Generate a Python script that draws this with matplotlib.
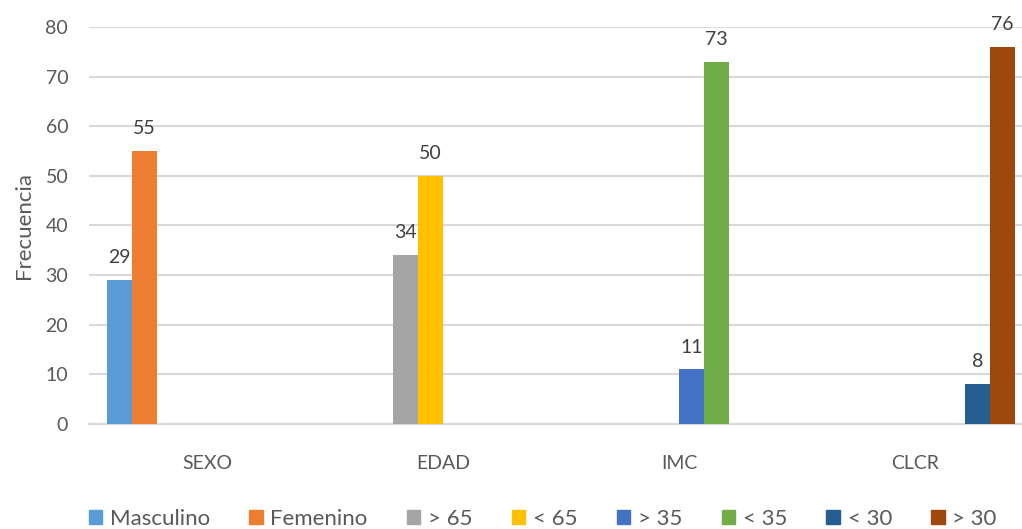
import matplotlib
matplotlib.use('Agg')
import matplotlib.pyplot as plt
from matplotlib.patches import Patch

# data
categories = ['SEXO', 'EDAD', 'IMC', 'CLCR']
series_names = ['Masculino', 'Femenino', '> 65', '< 65', '> 35', '< 35', '< 30', '> 30']
series_values = [29, 55, 34, 50, 11, 73, 8, 76]
series_category = [0, 0, 1, 1, 2, 2, 3, 3]
colors = ['#5B9BD5', '#ED7D31', '#A5A5A5', '#FFC000',
          '#4472C4', '#70AD47', '#255E91', '#9E480E']

plt.rcParams['font.family'] = ['Lato', 'DejaVu Sans']
txt = '#595959'

fig = plt.figure(figsize=(10.22, 5.29), dpi=100)
ax = fig.add_axes([0.0871, 0.1985, 0.9237, 0.7505])

w = 0.106
n = len(series_names)
for k in range(n):
    x = series_category[k] + (k - (n - 1) / 2) * w
    ax.bar(x, series_values[k], width=w, color=colors[k], zorder=3)
    ax.annotate(str(series_values[k]), (x, series_values[k]), xytext=(0, 10),
                textcoords='offset points', ha='center', va='bottom',
                fontsize=14, color='#404040', annotation_clip=False)

ax.set_xlim(-0.5, len(categories) - 0.5)
ax.set_ylim(0, 80)
ax.set_yticks(range(0, 81, 10))
ax.set_xticks(range(len(categories)))
ax.set_xticklabels(categories)
ax.tick_params(axis='both', length=0, labelsize=14, labelcolor=txt)
ax.tick_params(axis='x', pad=22)
ax.tick_params(axis='y', pad=15)
ax.grid(axis='y', color='#D9D9D9', linewidth=1.5, zorder=0)
for s in ['top', 'right', 'left']:
    ax.spines[s].set_visible(False)
ax.spines['bottom'].set_color('#D9D9D9')
ax.spines['bottom'].set_linewidth(1.5)
ax.set_ylabel('Frecuencia', fontsize=16, color=txt, labelpad=8)

handles = [Patch(color=c) for c in colors]
fig.legend(handles, series_names, loc='center', bbox_to_anchor=(0.531, 0.019),
           ncol=n, frameon=False, fontsize=16, labelcolor=txt,
           handlelength=0.6, handleheight=0.6, handletextpad=0.35,
           columnspacing=1.77)

fig.savefig('out.png', dpi=100)
